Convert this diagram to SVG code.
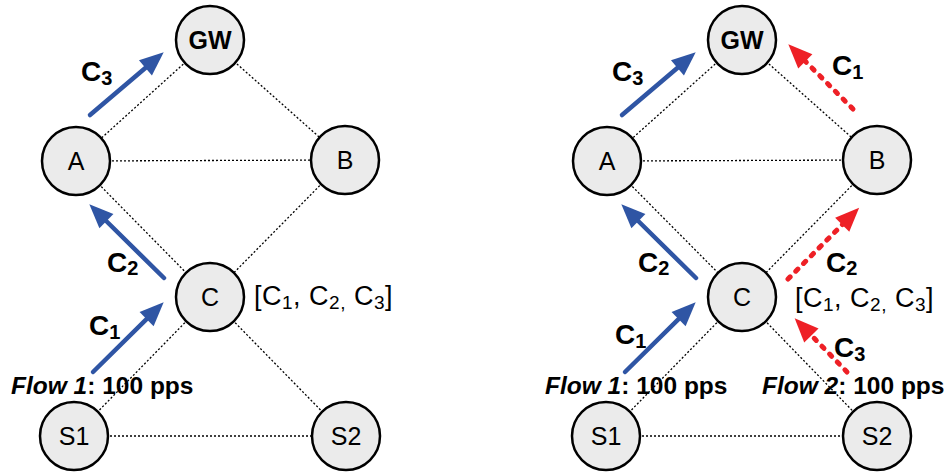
<svg xmlns="http://www.w3.org/2000/svg" width="951" height="476" viewBox="0 0 951 476">
<style>
.link{stroke:#000;stroke-width:1.3;stroke-dasharray:2 2;fill:none}
.node{fill:#ebebeb;stroke:#000;stroke-width:2.5}
.nl{font-family:"Liberation Sans",Arial,sans-serif;font-size:25px;text-anchor:middle;fill:#000}
.gw{font-weight:bold;font-size:25px}
.blue{stroke:#2f55a4;stroke-width:4.5;stroke-linecap:round;fill:none}
.red{stroke:#ee2026;stroke-width:5;stroke-linecap:round;stroke-dasharray:3 8;fill:none}
.cl{font-family:"Liberation Sans",Arial,sans-serif;font-size:28px;font-weight:bold;fill:#000}
.sub{font-size:20px}
.br{font-family:"Liberation Sans",Arial,sans-serif;font-size:27px;letter-spacing:0.5px;fill:#000}
.bs{font-size:19px}
.flow{font-family:"Liberation Sans",Arial,sans-serif;font-size:24.5px;font-weight:bold;fill:#000}
</style>
<defs>
<marker id="hb" markerUnits="userSpaceOnUse" markerWidth="26" markerHeight="22" refX="1" refY="10" orient="auto" overflow="visible">
<path d="M0,0 L24,10 L0,20 z" fill="#2f55a4"/>
</marker>
<marker id="hr" markerUnits="userSpaceOnUse" markerWidth="26" markerHeight="22" refX="1" refY="10" orient="auto" overflow="visible">
<path d="M0,0 L24,10 L0,20 z" fill="#ee2026"/>
</marker>
</defs>
<g id="connectors">
<line class="link" x1="210" y1="40" x2="76" y2="161"/>
<line class="link" x1="210" y1="40" x2="345" y2="160"/>
<line class="link" x1="76" y1="161" x2="345" y2="160"/>
<line class="link" x1="76" y1="161" x2="210" y2="297"/>
<line class="link" x1="345" y1="160" x2="210" y2="297"/>
<line class="link" x1="210" y1="297" x2="74" y2="436"/>
<line class="link" x1="210" y1="297" x2="346" y2="436"/>
<line class="link" x1="74" y1="436" x2="346" y2="436"/>
<line class="link" x1="742" y1="40" x2="607" y2="161"/>
<line class="link" x1="742" y1="40" x2="877" y2="160"/>
<line class="link" x1="607" y1="161" x2="877" y2="160"/>
<line class="link" x1="607" y1="161" x2="742" y2="297"/>
<line class="link" x1="877" y1="160" x2="742" y2="297"/>
<line class="link" x1="742" y1="297" x2="606" y2="436"/>
<line class="link" x1="742" y1="297" x2="877" y2="436"/>
<line class="link" x1="606" y1="436" x2="877" y2="436"/>
</g>
<g id="left-GW"><circle class="node" cx="210" cy="40" r="34"/><text class="nl gw" x="210" y="49">GW</text></g>
<g id="left-A"><circle class="node" cx="76" cy="161" r="34"/><text class="nl" x="76" y="170">A</text></g>
<g id="left-B"><circle class="node" cx="345" cy="160" r="34"/><text class="nl" x="345" y="169">B</text></g>
<g id="left-C"><circle class="node" cx="210" cy="297" r="34"/><text class="nl" x="210" y="306">C</text></g>
<g id="left-S1"><circle class="node" cx="74" cy="436" r="34"/><text class="nl" x="74" y="445">S1</text></g>
<g id="left-S2"><circle class="node" cx="346" cy="436" r="34"/><text class="nl" x="346" y="445">S2</text></g>
<g id="right-GW"><circle class="node" cx="742" cy="40" r="34"/><text class="nl gw" x="742" y="49">GW</text></g>
<g id="right-A"><circle class="node" cx="607" cy="161" r="34"/><text class="nl" x="607" y="170">A</text></g>
<g id="right-B"><circle class="node" cx="877" cy="160" r="34"/><text class="nl" x="877" y="169">B</text></g>
<g id="right-C"><circle class="node" cx="742" cy="297" r="34"/><text class="nl" x="742" y="306">C</text></g>
<g id="right-S1"><circle class="node" cx="606" cy="436" r="34"/><text class="nl" x="606" y="445">S1</text></g>
<g id="right-S2"><circle class="node" cx="877" cy="436" r="34"/><text class="nl" x="877" y="445">S2</text></g>
<g id="flows">
<line class="blue" x1="90" y1="115" x2="146.2" y2="67.2" marker-end="url(#hb)"/>
<line class="blue" x1="164" y1="278" x2="105.7" y2="220.5" marker-end="url(#hb)"/>
<line class="blue" x1="93" y1="372" x2="147.3" y2="318.4" marker-end="url(#hb)"/>
<line class="blue" x1="622" y1="115" x2="678.2" y2="67.2" marker-end="url(#hb)"/>
<line class="blue" x1="696" y1="278" x2="637.7" y2="220.5" marker-end="url(#hb)"/>
<line class="blue" x1="625" y1="372" x2="679.3" y2="318.4" marker-end="url(#hb)"/>
<line class="red" x1="853" y1="109" x2="804.6" y2="60.6" marker-end="url(#hr)"/>
<line class="red" x1="788" y1="279" x2="842.9" y2="224" marker-end="url(#hr)"/>
<line class="red" x1="847" y1="372" x2="810.7" y2="334.7" marker-end="url(#hr)"/>
</g>
<g id="labels">
<text class="cl" x="81" y="81">C<tspan class="sub" dy="4">3</tspan></text>
<text class="cl" x="107" y="272">C<tspan class="sub" dy="3">2</tspan></text>
<text class="cl" x="89" y="335">C<tspan class="sub" dy="4">1</tspan></text>
<text class="cl" x="612" y="81">C<tspan class="sub" dy="4">3</tspan></text>
<text class="cl" x="638" y="272">C<tspan class="sub" dy="3">2</tspan></text>
<text class="cl" x="615" y="344">C<tspan class="sub" dy="4">1</tspan></text>
<text class="cl" x="832" y="75">C<tspan class="sub" dy="4">1</tspan></text>
<text class="cl" x="826" y="272">C<tspan class="sub" dy="3">2</tspan></text>
<text class="cl" x="834" y="357">C<tspan class="sub" dy="4">3</tspan></text>
<text class="br" x="254" y="305">[C<tspan class="bs" dy="4">1</tspan><tspan dy="-4">, C</tspan><tspan class="bs" dy="4">2,</tspan><tspan dy="-4"> C</tspan><tspan class="bs" dy="4">3</tspan><tspan dy="-4">]</tspan></text>
<text class="br" x="795" y="307">[C<tspan class="bs" dy="4">1</tspan><tspan dy="-4">, C</tspan><tspan class="bs" dy="4">2,</tspan><tspan dy="-4"> C</tspan><tspan class="bs" dy="4">3</tspan><tspan dy="-4">]</tspan></text>
<text class="flow" x="11" y="394"><tspan font-style="italic">Flow 1</tspan>: 100 pps</text>
<text class="flow" x="545" y="394"><tspan font-style="italic">Flow 1</tspan>: 100 pps</text>
<text class="flow" x="762" y="394"><tspan font-style="italic">Flow 2</tspan>: 100 pps</text>
</g>
</svg>
